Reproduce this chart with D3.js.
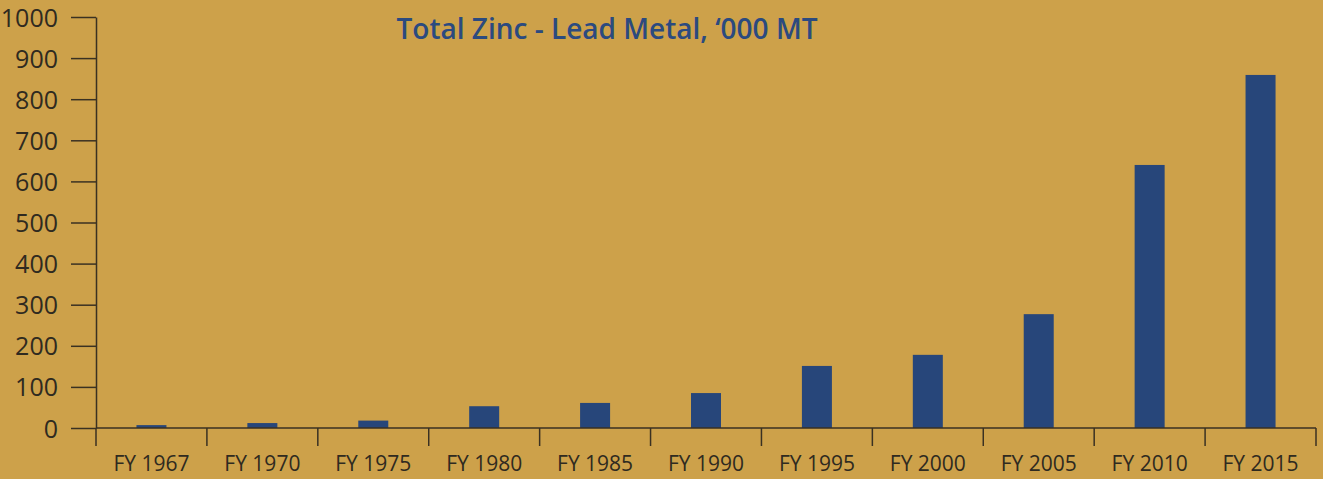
<!DOCTYPE html>
<html>
<head>
<meta charset="utf-8">
<script src="https://cdn.jsdelivr.net/npm/d3@7"></script>
<style>
  html, body { margin: 0; padding: 0; background: #cda14a; }
  svg { display: block; }
</style>
</head>
<body>
<script>
// chart data
const years = ['FY 1967', 'FY 1970', 'FY 1975', 'FY 1980', 'FY 1985', 'FY 1990',
	'FY 1995', 'FY 2000', 'FY 2005', 'FY 2010', 'FY 2015'];
const metal = [7, 12, 18, 53, 61, 85, 151, 178, 277, 640, 859];
const yTicks = [0, 100, 200, 300, 400, 500, 600, 700, 800, 900, 1000];
const title = 'Total Zinc - Lead Metal, \u2018000 MT';

const W = 1323, H = 479;
const margin = { top: 17, right: 7, bottom: 51, left: 96 };
const axisColor = '#3a3122';
const textColor = '#2f2a20';
const barColor = '#27467a';
const barWidth = 30;

const svg = d3.select('body').append('svg')
	.attr('width', W)
	.attr('height', H)
	.style('background', '#cda14a');

const x = d3.scaleBand().domain(years).range([margin.left, W - margin.right]).padding(0);
const y = d3.scaleLinear().domain([0, 1000]).range([H - margin.bottom, margin.top]);

// bars
svg.append('g').selectAll('rect')
	.data(metal)
	.join('rect')
	.attr('x', (d, i) => x(years[i]) + x.bandwidth() / 2 - barWidth / 2)
	.attr('y', d => y(d))
	.attr('width', barWidth)
	.attr('height', d => y(0) - y(d))
	.attr('fill', barColor);

// y axis
const yAxis = svg.append('g')
	.attr('transform', 'translate(' + margin.left + ',0)')
	.call(d3.axisLeft(y).tickValues(yTicks).tickFormat(d3.format('d'))
		.tickSize(25).tickPadding(13).tickSizeOuter(0));
yAxis.select('.domain').attr('stroke', axisColor).attr('stroke-width', 1.5);
yAxis.selectAll('.tick line').attr('stroke', axisColor).attr('stroke-width', 1.5);
yAxis.selectAll('.tick text')
	.attr('fill', textColor)
	.style('font-family', '"Open Sans", sans-serif')
	.style('font-size', '25px')
	.attr('dy', '0.36em');

// x axis: labels at band centres, ticks at band edges
const xAxis = svg.append('g')
	.attr('transform', 'translate(0,' + y(0) + ')')
	.call(d3.axisBottom(x).tickSize(0).tickPadding(28).tickSizeOuter(0));
xAxis.select('.domain').remove();
xAxis.selectAll('.tick text')
	.attr('fill', textColor)
	.style('font-family', '"Open Sans", sans-serif')
	.style('font-size', '21px');

xAxis.append('line')
	.attr('x1', margin.left).attr('x2', x.range()[1])
	.attr('stroke', axisColor).attr('stroke-width', 1.5);

const edges = years.map(d => x(d)).concat([x(years[years.length - 1]) + x.bandwidth()]);
xAxis.selectAll('.edge')
	.data(edges)
	.join('line')
	.attr('class', 'edge')
	.attr('x1', d => d).attr('x2', d => d)
	.attr('y1', 0).attr('y2', 18)
	.attr('stroke', axisColor).attr('stroke-width', 1.5);

// title
svg.append('text')
	.attr('x', 607)
	.attr('y', 39)
	.attr('text-anchor', 'middle')
	.attr('fill', '#2b4a7f')
	.style('font-family', '"Open Sans", sans-serif')
	.style('font-weight', 600)
	.style('font-size', '28px')
	.text(title);
</script>
</body>
</html>
